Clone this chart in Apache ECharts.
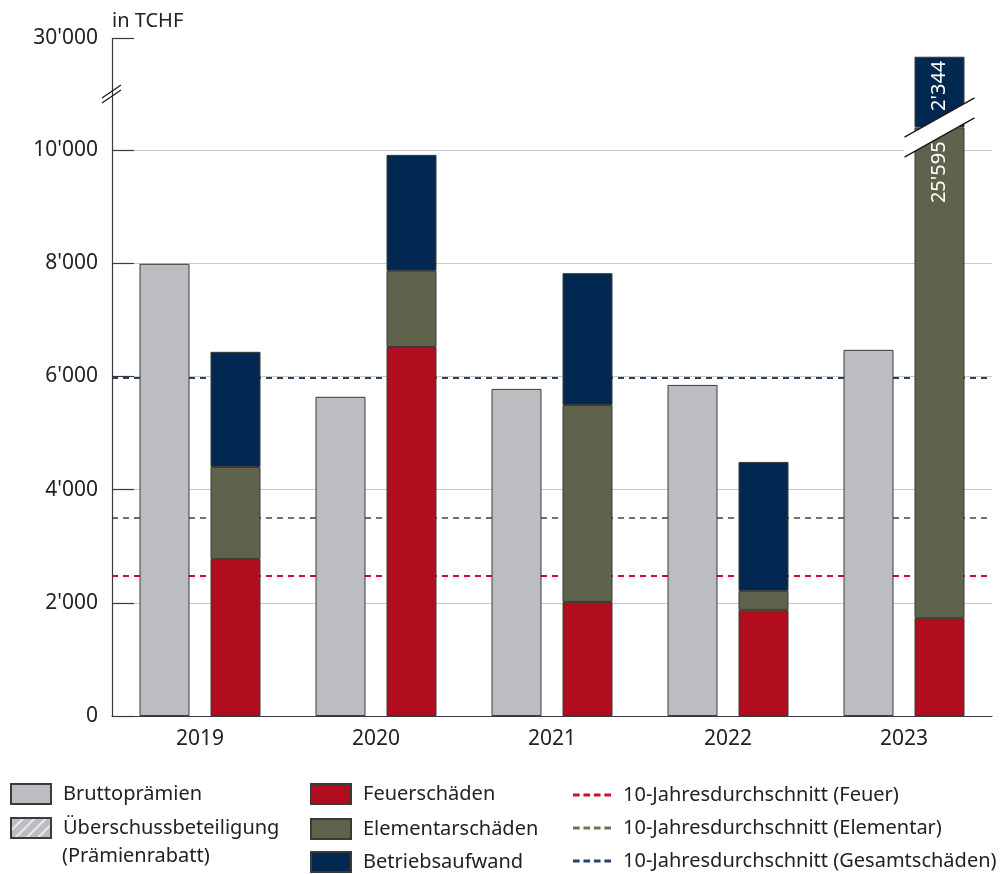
<!DOCTYPE html>
<html><head><meta charset="utf-8">
<script src="https://cdn.jsdelivr.net/npm/echarts@6/dist/echarts.min.js"></script>
<style>html,body{margin:0;padding:0;background:#fff}#c{width:1004px;height:874px}</style>
</head><body><div id="c"></div>
<script>
const years = ['2019', '2020', '2021', '2022', '2023'];
const bruttopraemien = [7990, 5640, 5780, 5850, 6470];
const ueberschuss = [];
const feuerschaeden = [2775, 6520, 2015, 1875, 1730];
const elementarschaeden = [1625, 1345, 3480, 335, 25595];
const betriebsaufwand = [2035, 2050, 2330, 2280, 2344];
const avgFeuer = 2480;
const avgElementar = 3500;
const avgGesamt = 5970;
const yTickValues = [0, 2000, 4000, 6000, 8000, 10000, 30000];
const gridLineValues = [2000, 4000, 6000, 8000, 10000];
const breakRange = [10400, 28420];
const labelledYear = 4;

const FONT = '"Noto Sans", sans-serif';
const C = {
  gray: '#bcbdc1', red: '#b20d1e', green: '#60634b', navy: '#002850',
  dRed: '#c8102e', dGreen: '#6f715c', dNavy: '#23446e', border: '#3a3a3a', text: '#222'
};
const fmt = v => String(v).replace(/\B(?=(\d{3})+(?!\d))/g, "'");
const DASH_ICON = 'path://M0,0h7v3h-7z M11,0h7v3h-7z M22,0h7v3h-7z M33,0h7v3h-7z';

const chart = echarts.init(document.getElementById('c'), null, {renderer: 'canvas'});

function barSeries(name, data, color, stack, extra) {
  return Object.assign({
    name, type: 'bar', stack, data, barWidth: 50, barGap: '42%',
    itemStyle: {color, borderColor: C.border, borderWidth: 1},
    emphasis: {disabled: true}
  }, extra || {});
}
function avgSeries(name, value, color) {
  return {
    name, type: 'line', data: [], symbol: 'none',
    itemStyle: {color},
    lineStyle: {color, type: [6, 5], width: 2.2},
    markLine: {
      silent: true, symbol: 'none', z: 1, label: {show: false},
      lineStyle: {color, type: [6, 5], width: 2.2},
      data: [{yAxis: value}]
    }
  };
}
const labelStyle = (text, pos, extra) => Object.assign({
  show: true, formatter: text, position: pos, rotate: 90, color: '#fff',
  fontFamily: FONT, fontSize: 20
}, extra);
const legendText = {fontSize: 20, lineHeight: 20, color: C.text, fontFamily: FONT, padding: [0, 0, 0, 7]};
const boxLegend = (left, top, gap, names) => ({
  left, top, padding: 0, orient: 'vertical', itemWidth: 40, itemHeight: 20, itemGap: gap, icon: 'rect',
  selectedMode: false, textStyle: legendText, data: names
});

const option = {
  animation: false,
  textStyle: {fontFamily: FONT},
  grid: {left: 112, right: 12, top: 38, bottom: 158, containLabel: false},
  xAxis: {
    type: 'category', data: years,
    axisLine: {lineStyle: {color: C.border, width: 1.2}},
    axisTick: {inside: true, length: 14, lineStyle: {color: C.border}},
    axisLabel: {fontSize: 21, color: C.text, margin: 13, fontFamily: FONT}
  },
  yAxis: {
    type: 'value', min: 0, max: 30000, z: 4,
    name: 'in TCHF', nameLocation: 'end', nameGap: 7,
    nameTextStyle: {align: 'left', verticalAlign: 'bottom', fontSize: 20, color: C.text, fontFamily: FONT},
    breaks: [{start: breakRange[0], end: breakRange[1], gap: 0}],
    breakArea: {show: false},
    axisLine: {show: true, lineStyle: {color: C.border, width: 1.2}},
    axisTick: {show: true, inside: true, length: 22, customValues: yTickValues, lineStyle: {color: C.border, width: 1.2}},
    axisLabel: {customValues: yTickValues, formatter: v => fmt(v), fontSize: 21, color: C.text, margin: 14, fontFamily: FONT},
    splitLine: {show: false}
  },
  legend: [
    boxLegend(10, 783, 12, ['Bruttoprämien', 'Überschussbeteiligung']),
    boxLegend(310, 783, 13, ['Feuerschäden', 'Elementarschäden']),
    boxLegend(310, 851, 13, ['Betriebsaufwand']),
    {left: 573, top: 785, padding: 0, orient: 'vertical', itemWidth: 38, itemHeight: 3, itemGap: 13,
     selectedMode: false, textStyle: legendText, itemStyle: {borderWidth: 0},
     data: ['10-Jahresdurchschnitt (Feuer)', '10-Jahresdurchschnitt (Elementar)', '10-Jahresdurchschnitt (Gesamtschäden)']
       .map(n => ({name: n, icon: DASH_ICON}))}
  ],
  series: [
    barSeries('Bruttoprämien', bruttopraemien, C.gray, 'prem', {
      markLine: {
        silent: true, symbol: 'none', z: 1, label: {show: false},
        lineStyle: {color: '#c9c9c9', type: 'solid', width: 1.2},
        data: gridLineValues.map(v => ({yAxis: v}))
      }
    }),
    barSeries('Überschussbeteiligung', ueberschuss, C.gray, 'prem', {
      itemStyle: {color: C.gray, borderColor: C.border, borderWidth: 1,
        decal: {symbol: 'rect', symbolSize: 1, dashArrayX: [1, 0], dashArrayY: [2, 6], rotation: -Math.PI / 4, color: 'rgba(255,255,255,0.7)'}}
    }),
    barSeries('Feuerschäden', feuerschaeden, C.red, 'claims'),
    barSeries('Elementarschäden', elementarschaeden.map((v, i) => i === labelledYear ?
      {value: v, label: labelStyle(fmt(v), 'insideTop', {align: 'right', verticalAlign: 'middle', distance: 14})} : v), C.green, 'claims'),
    barSeries('Betriebsaufwand', betriebsaufwand.map((v, i) => i === labelledYear ?
      {value: v, label: labelStyle(fmt(v), 'insideTop', {align: 'right', verticalAlign: 'middle', distance: 4})} : v), C.navy, 'claims'),
    avgSeries('10-Jahresdurchschnitt (Feuer)', avgFeuer, C.dRed),
    avgSeries('10-Jahresdurchschnitt (Elementar)', avgElementar, C.dGreen),
    avgSeries('10-Jahresdurchschnitt (Gesamtschäden)', avgGesamt, C.dNavy)
  ]
};
chart.setOption(option);

function decorate() {
  const rect = chart.getModel().getComponent('grid', 0).coordinateSystem.getRect();
  const yb = chart.convertToPixel({yAxisIndex: 0}, breakRange[0]);
  const yLow = chart.convertToPixel({yAxisIndex: 0}, yTickValues[yTickValues.length - 2]);
  const yTop = chart.convertToPixel({yAxisIndex: 0}, yTickValues[yTickValues.length - 1]);
  const lay = chart.getModel().getSeriesByIndex(4).getData().getItemLayout(labelledYear);
  const bx0 = lay.x - 10, bx1 = lay.x + lay.width + 10;
  const cx = lay.x + lay.width / 2;
  const s = 0.56, h = 10;
  const yAt = (x, off) => yb + off - s * (x - cx);
  const gx = rect.x, ay = (yLow + yTop) / 2;
  chart.setOption({
    graphic: [
      {type: 'polygon', z: 50, silent: true,
       shape: {points: [[bx0, yAt(bx0, -h)], [bx1, yAt(bx1, -h)], [bx1, yAt(bx1, h)], [bx0, yAt(bx0, h)]]},
       style: {fill: '#fff'}},
      {type: 'line', z: 51, silent: true, shape: {x1: bx0, y1: yAt(bx0, -h), x2: bx1, y2: yAt(bx1, -h)}, style: {stroke: '#1a1a1a', lineWidth: 1.4}},
      {type: 'line', z: 51, silent: true, shape: {x1: bx0, y1: yAt(bx0, h), x2: bx1, y2: yAt(bx1, h)}, style: {stroke: '#1a1a1a', lineWidth: 1.4}},
      {type: 'line', z: 51, silent: true, shape: {x1: gx - 10, y1: ay + 9, x2: gx + 9, y2: ay - 4}, style: {stroke: '#1a1a1a', lineWidth: 1.3}},
      {type: 'line', z: 51, silent: true, shape: {x1: gx - 10, y1: ay + 4, x2: gx + 9, y2: ay - 9}, style: {stroke: '#1a1a1a', lineWidth: 1.3}},
      {type: 'text', z: 51, silent: true, left: 62, top: 846,
       style: {text: '(Prämienrabatt)', font: '20px ' + FONT, fill: C.text}}
    ]
  });
}
decorate();
</script>
</body></html>
